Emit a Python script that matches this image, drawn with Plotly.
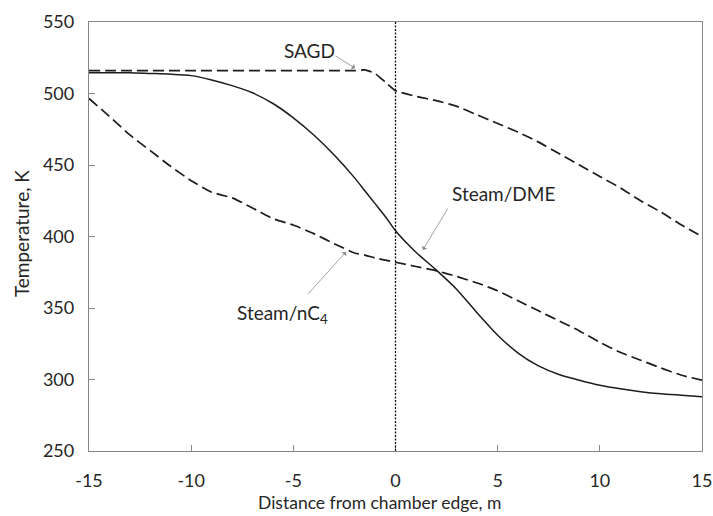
import plotly.graph_objects as go

# Distance from chamber edge (m)
distance = [-15, -14, -13, -12, -11, -10, -9, -8, -7, -6, -5, -4, -3, -2, -1.5, -1, -0.5,
            0, 1, 2, 3, 4, 5, 6, 7, 8, 9, 10, 11, 12, 13, 14, 15]

# Temperature profiles (K)
t_sagd = [516, 516, 516, 516, 516, 516, 516, 516, 516, 516, 516, 516, 516, 516, 516.5, 514, 508,
          502, 498, 495, 491, 485, 479, 473, 466, 458, 450, 442, 434, 425, 417, 408, 400]
t_dme = [514.5, 514.5, 514.5, 514, 513.5, 512.5, 509.5, 505.5, 500.5, 493, 483, 471, 457, 441, 432, 423, 414,
         404, 389, 376.5, 363, 346.5, 331, 318.5, 309.5, 303.5, 299.5, 296, 293.5, 291.5, 290, 289, 288]
t_nc4 = [496.5, 484, 471, 460, 449, 439, 431, 427, 420, 412.5, 408, 402, 395, 388.5, 387, 385, 383.5,
         382, 379, 376, 372, 367.5, 362, 355, 348, 341, 334, 326, 319, 313.5, 308, 303, 299.5]

x_ticks = [-15, -10, -5, 0, 5, 10, 15]
y_ticks = [250, 300, 350, 400, 450, 500, 550]

FONT = "Lato"
TXT = "#262626"
AX_COLOR = "#868686"
LINE = "#1c1c1c"

fig = go.Figure()
fig.add_trace(go.Scatter(x=distance, y=t_sagd, mode="lines", name="SAGD",
                         line=dict(color=LINE, width=1.7, dash="11px,5px", shape="spline", smoothing=0.5)))
fig.add_trace(go.Scatter(x=distance, y=t_nc4, mode="lines", name="Steam/nC4",
                         line=dict(color=LINE, width=1.7, dash="11px,5px", shape="spline", smoothing=0.5)))
fig.add_trace(go.Scatter(x=distance, y=t_dme, mode="lines", name="Steam/DME",
                         line=dict(color=LINE, width=1.5, shape="spline", smoothing=0.6)))

# chamber edge marker
fig.add_shape(type="line", x0=0, x1=0, y0=250, y1=550, xref="x", yref="y",
              line=dict(color="#111111", width=1.3, dash="2px,1.5px"))

label_font = dict(family=FONT, size=19, color=TXT)
arrow_common = dict(showarrow=True, arrowhead=1, arrowsize=1.3, arrowwidth=0.8,
                    arrowcolor="#8a8a8a", axref="x", ayref="y", xref="x", yref="y", text="")

fig.add_annotation(x=-1.98, y=517.6, ax=-3.0, ay=526.9, **arrow_common)
fig.add_annotation(x=-4.23, y=530.4, text="SAGD", showarrow=False, font=label_font)
fig.add_annotation(x=1.34, y=390.6, ax=2.6, ay=420.6, **arrow_common)
fig.add_annotation(x=5.3, y=430.4, text="Steam/DME", showarrow=False, font=label_font)
fig.add_annotation(x=-2.42, y=389.2, ax=-4.34, ay=358.9, **arrow_common)
fig.add_annotation(x=-5.55, y=345.5, text="Steam/nC<sub>4</sub>", showarrow=False, font=label_font)

# axis titles
fig.add_annotation(xref="paper", yref="paper", x=0.4747, y=-0.119, xanchor="center", yanchor="middle",
                   text="Distance from chamber edge, m", showarrow=False,
                   font=dict(family=FONT, size=17.5, color=TXT))
fig.add_annotation(xref="paper", yref="paper", x=-0.109, y=0.506, xanchor="center", yanchor="middle",
                   text="Temperature, K", textangle=-90, showarrow=False,
                   font=dict(family=FONT, size=19, color=TXT))

axis_common = dict(showline=True, linecolor=AX_COLOR, linewidth=1.3, mirror=True,
                   ticks="inside", ticklen=6, tickcolor=AX_COLOR, tickwidth=1.2,
                   showgrid=False, zeroline=False, automargin=False, ticklabeloverflow="allow",
                   tickfont=dict(family=FONT, size=18, color=TXT))

fig.update_xaxes(range=[-15, 15], tickvals=x_ticks, ticktext=[str(v) for v in x_ticks],
                 ticklabelstandoff=13, **axis_common)
fig.update_yaxes(range=[250, 550], tickvals=y_ticks, ticklabelstandoff=10, **axis_common)

fig.update_layout(width=713, height=516, margin=dict(l=89, r=11, t=22, b=65),
                  paper_bgcolor="white", plot_bgcolor="white", showlegend=False)

fig.write_html("out.html")
